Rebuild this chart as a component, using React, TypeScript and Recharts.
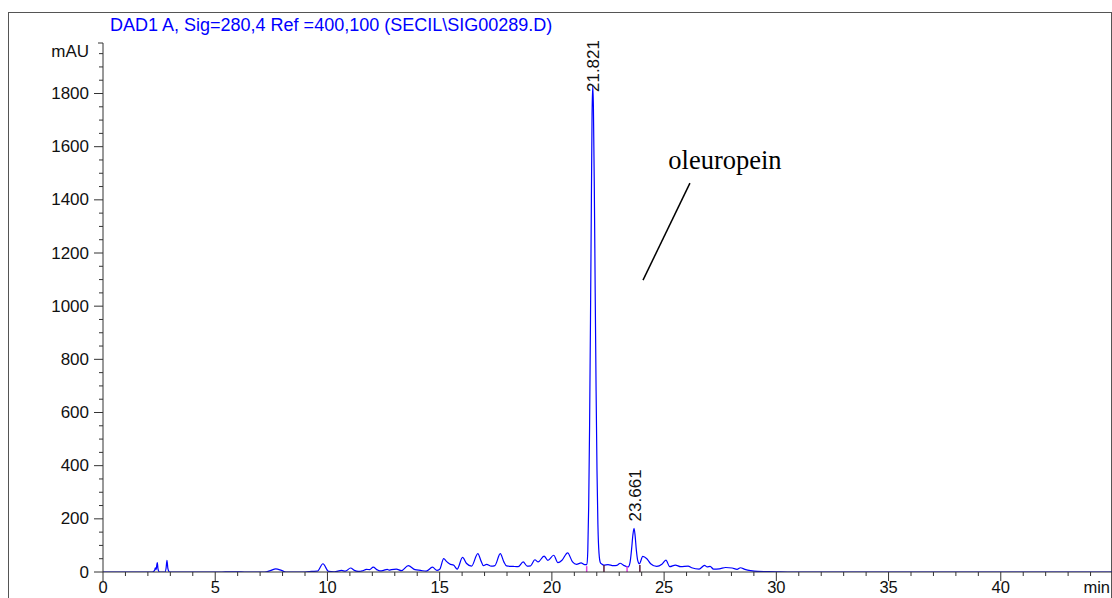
import { LineChart, Line, XAxis, YAxis, ReferenceLine, ReferenceDot } from "recharts";

// retention time (min) and detector response (mAU)
const retentionTimes = [
  0, 2.2, 2.3, 2.33, 2.37, 2.4, 2.42, 2.45, 2.5, 2.56,
  2.76, 2.81, 2.85, 2.89, 2.95, 3.02, 5.3, 5.6, 6.0, 6.3,
  7.2, 7.45, 7.7, 7.95, 8.15, 9.0, 9.3, 9.55, 9.8, 10.05,
  10.3, 10.63, 10.8, 11.03, 11.2, 11.37, 11.55, 11.74, 11.88, 12.04,
  12.2, 12.33, 12.5, 12.66, 12.75, 12.85, 13.07, 13.3, 13.6, 13.9,
  14.15, 14.4, 14.68, 14.88, 15.0, 15.18, 15.3, 15.45, 15.63, 15.78,
  16.02, 16.2, 16.42, 16.7, 16.85, 16.95, 17.09, 17.3, 17.46, 17.7,
  17.86, 17.98, 18.28, 18.5, 18.72, 18.9, 19.05, 19.24, 19.39, 19.65,
  19.82, 20.08, 20.27, 20.45, 20.7, 20.92, 21.1, 21.3, 21.46, 21.56,
  21.6, 21.64, 21.68, 21.72, 21.76, 21.79, 21.821, 21.85, 21.89, 21.93,
  21.97, 22.01, 22.05, 22.1, 22.16, 22.22, 22.32, 22.5, 22.74, 22.9,
  23.04, 23.2, 23.4, 23.48, 23.55, 23.61, 23.661, 23.71, 23.76, 23.82,
  23.9, 24.05, 24.23, 24.4, 24.67, 24.9, 25.08, 25.25, 25.5, 25.74,
  26.07, 26.23, 26.56, 26.8, 26.92, 27.05, 27.2, 27.46, 27.74, 28.03,
  28.25, 28.4, 28.6, 28.85, 29.18, 30.0, 30.5, 45,
];

const absorbance = [
  0, 0, 6, 16, 9, 28, 35, 12, 1, 0,
  0, 14, 44, 14, 1, 0, 0, 1, 1, 0,
  0, 5, 12, 6, 0, 0, 2, 3, 31, 2,
  1, 6, 3, 15, 6, 2, 4, 10, 9, 18,
  9, 4, 6, 10, 7, 9, 11, 5, 24, 9,
  6, 3, 18, 6, 10, 50, 40, 30, 25, 11,
  55, 32, 22, 69, 40, 24, 29, 22, 24, 69,
  38, 23, 21, 20, 38, 22, 23, 46, 38, 60,
  44, 63, 35, 44, 72, 38, 29, 34, 28, 28,
  80, 250, 550, 950, 1400, 1720, 1830, 1750, 1450, 1050,
  680, 380, 180, 70, 35, 30, 26, 28, 24, 25,
  33, 25, 19, 35, 85, 140, 164, 135, 85, 45,
  31, 59, 50, 31, 21, 29, 45, 20, 26, 20,
  22, 16, 11, 25, 19, 21, 11, 12, 17, 15,
  10, 16, 10, 5, 2, 1, 0, 0,
];

const peakTimes = [21.821, 23.661];
const peakHeights = [1830, 164];

// integration start / end markers
const startMarks = [21.55, 23.35];
const endMarks = [22.32, 23.92];

const xLabels = [0, 5, 10, 15, 20, 25, 30, 35, 40];
const yLabels = [0, 200, 400, 600, 800, 1000, 1200, 1400, 1600, 1800];

const X_MAX = 45;
const Y_MAX = 1990;
const PLOT_TOP = 43;

const xTicks = Array.from({ length: X_MAX + 1 }, (_, i) => i);
const yTicks = [...Array.from({ length: 40 }, (_, i) => i * 50), Y_MAX];

const data = retentionTimes.map((t, i) => ({ t, mAU: absorbance[i] }));

const FONT = "'Liberation Sans', Arial, sans-serif";

function XTick(props: any) {
  const { x, y, payload } = props;
  const v = payload.value;
  if (v === X_MAX) {
    return (
      <text x={1110} y={y + 21} textAnchor="end" fontSize={16.5} fontFamily={FONT} fill="#111">
        min
      </text>
    );
  }
  const major = xLabels.includes(v);
  return (
    <g>
      <line x1={x} x2={x} y1={y} y2={y + (major ? 9 : 4)} stroke="#333" />
      {major && (
        <text x={x} y={y + 21} textAnchor="middle" fontSize={16.5} fontFamily={FONT} fill="#111">
          {v}
        </text>
      )}
    </g>
  );
}

function YTick(props: any) {
  const { x, y, payload } = props;
  const v = payload.value;
  if (v === Y_MAX) {
    return (
      <g>
        <line x1={x - 5} x2={x} y1={y} y2={y} stroke="#333" />
        <text x={x - 14} y={y + 8} textAnchor="end" dominantBaseline="central" fontSize={17} fontFamily={FONT} fill="#111">
          mAU
        </text>
      </g>
    );
  }
  const major = yLabels.includes(v);
  return (
    <g>
      <line x1={x - (major ? 9 : 4)} x2={x} y1={y} y2={y} stroke="#333" />
      {major && (
        <text x={x - 14} y={y} textAnchor="end" dominantBaseline="central" fontSize={17} fontFamily={FONT} fill="#111">
          {v}
        </text>
      )}
    </g>
  );
}

function PeakLabel({ cx, cy, text }: any) {
  const bottom = Math.max(cy - 7, PLOT_TOP + 49);
  const x = cx + 1;
  return (
    <text
      x={x}
      y={bottom}
      transform={`rotate(-90 ${x} ${bottom})`}
      textAnchor="start"
      dominantBaseline="central"
      fontSize={17}
      fontFamily={FONT}
      fill="#111"
    >
      {text}
    </text>
  );
}

export default function App() {
  return (
    <div style={{ position: "absolute", left: 0, top: 0, width: 1112, height: 598, overflow: "hidden", background: "#fff" }}>
      <div
        style={{
          position: "absolute",
          left: 8,
          top: 12,
          width: 1104,
          height: 700,
          border: "1px solid #555",
          boxSizing: "border-box",
        }}
      />
      <div style={{ position: "absolute", left: 0, top: 0 }}>
        <LineChart width={1116} height={598} data={data} margin={{ top: PLOT_TOP, right: 3, bottom: 0, left: 43 }}>
          <XAxis
            dataKey="t"
            type="number"
            domain={[0, X_MAX]}
            ticks={xTicks}
            interval={0}
            tickSize={0}
            tickMargin={0}
            tickLine={false}
            axisLine={{ stroke: "#333" }}
            tick={(p: any) => <XTick {...p} />}
            height={26}
            allowDataOverflow
          />
          <YAxis
            type="number"
            domain={[0, Y_MAX]}
            ticks={yTicks}
            interval={0}
            tickSize={0}
            tickMargin={0}
            tickLine={false}
            axisLine={{ stroke: "#333" }}
            tick={(p: any) => <YTick {...p} />}
            width={60}
            allowDataOverflow
          />
          <Line
            dataKey="mAU"
            type="monotone"
            stroke="#0000ff"
            strokeWidth={1.2}
            dot={false}
            isAnimationActive={false}
          />
          {startMarks.map((t) => (
            <ReferenceLine
              key={`s${t}`}
              segment={[{ x: t, y: 0 }, { x: t, y: 22 }]}
              stroke="#e040e0"
              strokeWidth={1.5}
            />
          ))}
          {endMarks.map((t) => (
            <ReferenceLine
              key={`e${t}`}
              segment={[{ x: t, y: 0 }, { x: t, y: 26 }]}
              stroke="#5a1a3a"
              strokeWidth={1.5}
            />
          ))}
          {peakTimes.map((t, i) => (
            <ReferenceDot
              key={`p${t}`}
              x={t}
              y={peakHeights[i]}
              r={0}
              ifOverflow="visible"
              shape={(p: any) => <PeakLabel cx={p.cx} cy={p.cy} text={t.toFixed(3)} />}
            />
          ))}
          <ReferenceLine
            segment={[{ x: 26.15, y: 1463 }, { x: 24.06, y: 1098 }]}
            stroke="#000"
            strokeWidth={1.5}
          />
          <ReferenceDot
            x={27.71}
            y={1516}
            r={0}
            shape={(p: any) => (
              <text x={p.cx} y={p.cy} textAnchor="middle" fontSize={26.5} fontFamily="'Liberation Serif', 'Times New Roman', serif" fill="#000">
                oleuropein
              </text>
            )}
          />
        </LineChart>
      </div>
      <svg width={1112} height={598} style={{ position: "absolute", left: 0, top: 0, pointerEvents: "none" }}>
        <text x={110} y={31} fontSize={18} fontFamily={FONT} fill="#0000ff">
          DAD1 A, Sig=280,4 Ref =400,100 (SECIL\SIG00289.D)
        </text>
      </svg>
    </div>
  );
}
